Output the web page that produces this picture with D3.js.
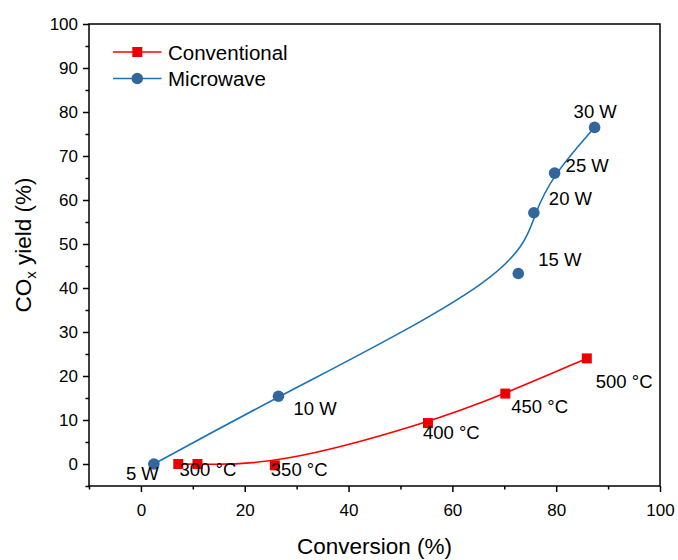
<!DOCTYPE html>
<html>
<head>
<meta charset="utf-8">
<script src="https://cdn.jsdelivr.net/npm/d3@7"></script>
<style>
  body { margin: 0; background: #fff; }
  text { font-family: Arial, "Liberation Sans", sans-serif; fill: #000; }
</style>
</head>
<body>
<div id="chart"></div>
<script>
  // data
  const microX = [2.5, 26.5, 72.7, 75.7, 79.7, 87.4];
  const microY = [0, 15.4, 43.3, 57.1, 66.1, 76.5];
  const microLabels = ['5 W', '10 W', '15 W', '20 W', '25 W', '30 W'];

  const convX = [7.2, 10.9, 25.8, 55.3, 70.2, 85.9];
  const convY = [0, 0, -0.3, 9.3, 16.0, 24.0];
  const convLabels = ['', '300 °C', '350 °C', '400 °C', '450 °C', '500 °C'];

  const xTicks = [0, 20, 40, 60, 80, 100];
  const xMinor = [-10, 10, 30, 50, 70, 90];
  const yTicks = [0, 10, 20, 30, 40, 50, 60, 70, 80, 90, 100];
  const yMinor = [-5, 5, 15, 25, 35, 45, 55, 65, 75, 85, 95];

  // label offsets in px from each point (layout only)
  const microOffsets = [[-28, 16], [15, 19], [20, -7], [15, -8], [11, -1], [-21, -9]];
  const convOffsets = [[0, 0], [-18, 12], [-4, 11], [-5, 16], [6, 19], [9, 30]];

  const width = 678;
  const height = 560;
  const margin = { top: 24, right: 18, bottom: 74, left: 89 };

  const redLine = '#ff0000';
  const redMark = '#ee0000';
  const blueLine = '#1a73b8';
  const blueMark = '#33679c';

  const svg = d3.select('#chart')
    .append('svg')
    .attr('width', width)
    .attr('height', height);

  const xScale = d3.scaleLinear()
    .domain([-10, 100])
    .range([margin.left, width - margin.right]);

  const yScale = d3.scaleLinear()
    .domain([-5, 100])
    .range([height - margin.bottom, margin.top]);

  const axes = (selection) => {
    const bottom = height - margin.bottom;

    selection.append('g')
      .attr('transform', `translate(0,${bottom})`)
      .call(d3.axisBottom(xScale).tickValues(xMinor).tickSize(3.5).tickSizeOuter(0).tickFormat(''))
      .call(g => g.select('.domain').remove());

    selection.append('g')
      .attr('class', 'axis-x')
      .attr('transform', `translate(0,${bottom})`)
      .call(d3.axisBottom(xScale).tickValues(xTicks).tickSize(6).tickSizeOuter(0).tickPadding(12))
      .call(g => g.select('.domain').remove());

    selection.append('g')
      .attr('transform', `translate(${margin.left},0)`)
      .call(d3.axisLeft(yScale).tickValues(yMinor).tickSize(3.5).tickSizeOuter(0).tickFormat(''))
      .call(g => g.select('.domain').remove());

    selection.append('g')
      .attr('class', 'axis-y')
      .attr('transform', `translate(${margin.left},0)`)
      .call(d3.axisLeft(yScale).tickValues(yTicks).tickSize(6).tickSizeOuter(0).tickPadding(5))
      .call(g => g.select('.domain').remove());

    selection.selectAll('.tick line')
      .attr('stroke', '#000')
      .attr('stroke-width', 1.5);
    selection.selectAll('.tick text')
      .style('font-family', 'Arial, "Liberation Sans", sans-serif')
      .style('font-size', '17px')
      .attr('fill', '#000');

    // frame
    selection.append('rect')
      .attr('x', margin.left)
      .attr('y', margin.top)
      .attr('width', width - margin.left - margin.right)
      .attr('height', height - margin.top - margin.bottom)
      .attr('fill', 'none')
      .attr('stroke', '#000')
      .attr('stroke-width', 1.5);

    selection.append('text')
      .attr('x', (margin.left + width - margin.right) / 2)
      .attr('y', 554)
      .attr('text-anchor', 'middle')
      .style('font-size', '22.5px')
      .text('Conversion (%)');

    const yTitle = selection.append('text')
      .attr('transform', 'translate(31,245) rotate(-90)')
      .attr('text-anchor', 'middle')
      .style('font-size', '22.5px');
    yTitle.append('tspan').text('CO');
    yTitle.append('tspan').attr('dy', 5).style('font-size', '15px').text('x');
    yTitle.append('tspan').attr('dy', -5).text(' yield (%)');
  };

  const series = (selection, { xs, ys, labels, offsets, lineColor, markColor, shape }) => {
    const pts = xs.map((x, i) => ({ x, y: ys[i], label: labels[i], off: offsets[i] }));

    const line = d3.line()
      .x(d => xScale(d.x))
      .y(d => yScale(d.y))
      .curve(d3.curveBasis);

    selection.append('path')
      .datum(pts)
      .attr('d', line)
      .attr('fill', 'none')
      .attr('stroke', lineColor)
      .attr('stroke-width', 1.6);

    if (shape === 'square') {
      selection.selectAll('rect.mark')
        .data(pts)
        .join('rect')
        .attr('class', 'mark')
        .attr('x', d => xScale(d.x) - 5)
        .attr('y', d => yScale(d.y) - 5)
        .attr('width', 10)
        .attr('height', 10)
        .attr('fill', markColor);
    } else {
      selection.selectAll('circle.mark')
        .data(pts)
        .join('circle')
        .attr('class', 'mark')
        .attr('cx', d => xScale(d.x))
        .attr('cy', d => yScale(d.y))
        .attr('r', 5.8)
        .attr('fill', markColor);
    }

    selection.selectAll('text.lbl')
      .data(pts.filter(d => d.label))
      .join('text')
      .attr('class', 'lbl')
      .attr('x', d => xScale(d.x) + d.off[0])
      .attr('y', d => yScale(d.y) + d.off[1])
      .style('font-size', '18.5px')
      .text(d => d.label);
  };

  const legend = (selection) => {
    const items = [
      { name: 'Conventional', line: redLine, mark: redMark, shape: 'square' },
      { name: 'Microwave', line: blueLine, mark: blueMark, shape: 'circle' }
    ];
    items.forEach((it, i) => {
      const g = selection.append('g')
        .attr('transform', `translate(113,${52 + i * 26.5})`);
      g.append('line')
        .attr('x1', 0).attr('x2', 48.5)
        .attr('stroke', it.line)
        .attr('stroke-width', 1.6);
      if (it.shape === 'square') {
        g.append('rect')
          .attr('x', 19.3).attr('y', -5)
          .attr('width', 10).attr('height', 10)
          .attr('fill', it.mark);
      } else {
        g.append('circle')
          .attr('cx', 24.3).attr('r', 5.8)
          .attr('fill', it.mark);
      }
      g.append('text')
        .attr('x', 55)
        .attr('y', 7.5)
        .style('font-size', '20.5px')
        .text(it.name);
    });
  };

  svg.call(axes);
  svg.append('g').call(series, {
    xs: microX, ys: microY, labels: microLabels, offsets: microOffsets,
    lineColor: blueLine, markColor: blueMark, shape: 'circle'
  });
  svg.append('g').call(series, {
    xs: convX, ys: convY, labels: convLabels, offsets: convOffsets,
    lineColor: redLine, markColor: redMark, shape: 'square'
  });
  svg.call(legend);
</script>
</body>
</html>
